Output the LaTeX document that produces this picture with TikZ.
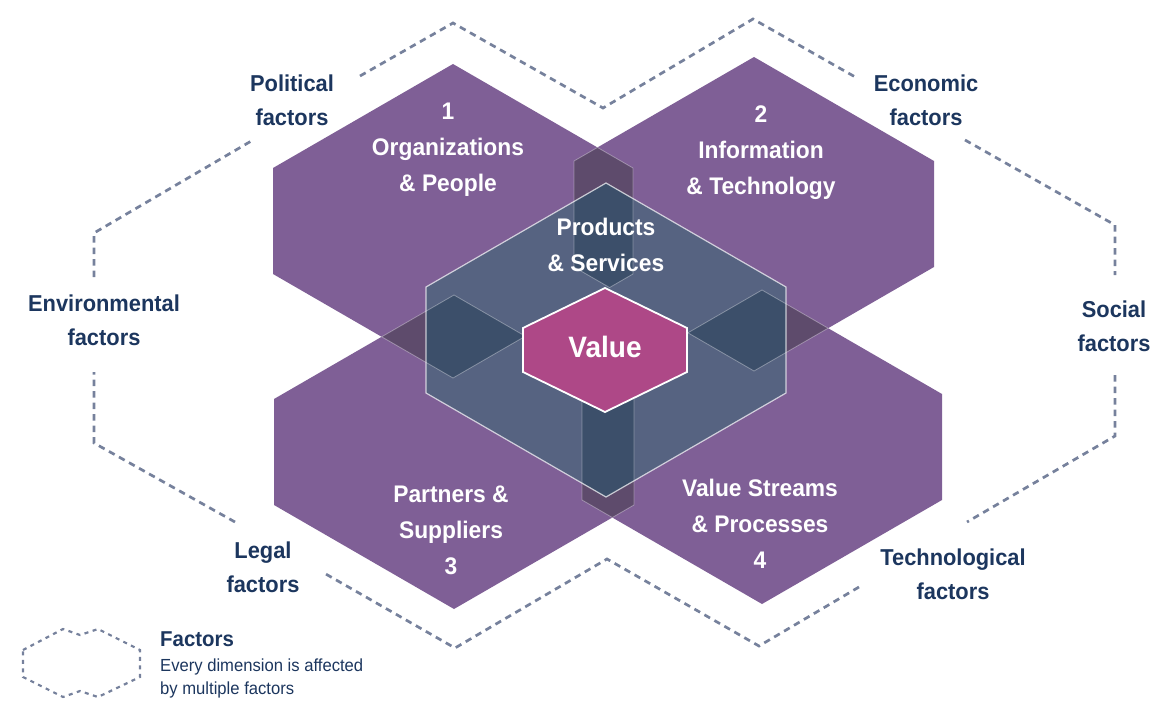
\documentclass[tikz,border=0pt]{standalone}
\usepackage{fontspec}
\setmainfont{Liberation Sans}[FakeStretch=0.95]
\usetikzlibrary{calc}

\definecolor{dimpurple}{RGB}{127,95,150}
\definecolor{overlappurple}{RGB}{94,75,108}
\definecolor{productsblue}{RGB}{86,99,129}
\definecolor{productsdark}{RGB}{60,79,106}
\definecolor{valuepink}{RGB}{174,72,135}
\definecolor{factornavy}{RGB}{28,54,94}
\definecolor{factorgrey}{RGB}{118,129,156}

% squashed hexagon round a named centre: half width, shoulder, tip
\newcommand{\hexat}[4]{($(#1)+(0,-#4)$) -- ($(#1)+(#2,-#3)$) -- ($(#1)+(#2,#3)$) -- ($(#1)+(0,#4)$) -- ($(#1)+(-#2,#3)$) -- ($(#1)+(-#2,-#3)$) -- cycle}
\newcommand{\dimhex}[1]{\hexat{#1}{180}{53}{157}}

\tikzset{
    dimlabel/.style={text=white, align=center, font=\fontsize{24}{36}\selectfont\bfseries},
    factorlabel/.style={text=factornavy, align=center, font=\fontsize{23}{34}\selectfont\bfseries},
    factorline/.style={draw=factorgrey, line width=2.7pt, dash pattern=on 6.5pt off 5pt},
    overlapedge/.style={draw=white, draw opacity=0.35, line width=0.8pt}
}

\begin{document}
\begin{tikzpicture}[x=1pt, y=-1pt]
    \useasboundingbox (0,0) rectangle (1172,706);

    \coordinate (h1) at (453,221);
    \coordinate (h2) at (754,214);
    \coordinate (h3) at (454,452);
    \coordinate (h4) at (762,447);
    \coordinate (ps) at (606,340);
    \coordinate (val) at (605,350);

    % factors outline
    \coordinate (o1) at (94,233);
    \coordinate (o2) at (453,23);
    \coordinate (o3) at (603,108);
    \coordinate (o4) at (753,19);
    \coordinate (o5) at (1115,225);
    \coordinate (o6) at (1115,436);
    \coordinate (o7) at (759,646);
    \coordinate (o8) at (607,559);
    \coordinate (o9) at (455,648);
    \coordinate (o10) at (94,443);

    \draw[factorline] (360,76) -- (o2) -- (o3) -- (o4) -- (857,78);
    \draw[factorline] (965,140) -- (o5) -- (1115,275);
    \draw[factorline] (1115,375) -- (o6) -- (967,522);
    \draw[factorline] (859,587) -- (o7) -- (o8) -- (o9) -- (324,573);
    \draw[factorline] (235,522) -- (o10) -- (94,372);
    \draw[factorline] (94,277) -- (o1) -- (253,140);

    % the four dimensions
    \foreach \h in {h1,h2,h3,h4}
        \fill[dimpurple] \dimhex{\h};
    \foreach \a/\b in {h1/h2,h1/h3,h2/h4,h3/h4}{
        \begin{scope}
            \clip \dimhex{\a};
            \fill[overlappurple] \dimhex{\b};
        \end{scope}
    }

    % products and services
    \fill[productsblue] \dimhex{ps};
    \begin{scope}
        \clip \dimhex{ps};
        \foreach \a/\b in {h1/h2,h1/h3,h2/h4,h3/h4}{
            \begin{scope}
                \clip \dimhex{\a};
                \fill[productsdark] \dimhex{\b};
            \end{scope}
        }
    \end{scope}
    \foreach \a/\b in {h1/h2,h1/h3,h2/h4,h3/h4}{
        \begin{scope}
            \clip \dimhex{\a};
            \draw[overlapedge] \dimhex{\b};
        \end{scope}
        \begin{scope}
            \clip \dimhex{\b};
            \draw[overlapedge] \dimhex{\a};
        \end{scope}
    }
    \draw[white, draw opacity=0.7, line width=1.2pt] \dimhex{ps};

    \filldraw[fill=valuepink, draw=white, line width=1.8pt] \hexat{val}{82}{22}{62};

    \node[dimlabel] (org) at (448,150) {1\\Organizations\\\& People};
    \node[dimlabel] (info) at (761,153) {2\\Information\\\& Technology};
    \node[dimlabel] (partners) at (451,530) {Partners \&\\Suppliers\\3};
    \node[dimlabel] (streams) at (760,524) {Value Streams\\\& Processes\\4};
    \node[dimlabel] (products) at (606,245) {Products\\\& Services};
    \node[dimlabel, font=\fontsize{29.5}{34}\selectfont\bfseries] (value) at (605,347) {Value};

    \node[factorlabel] (political) at (292,100) {Political\\factors};
    \node[factorlabel] (economic) at (926,100) {Economic\\factors};
    \node[factorlabel] (environmental) at (104,320) {Environmental\\factors};
    \node[factorlabel] (social) at (1114,326) {Social\\factors};
    \node[factorlabel] (legal) at (263,567) {Legal\\factors};
    \node[factorlabel] (technological) at (953,574) {Technological\\factors};

    % legend
    \draw[factorline, line width=2.2pt, dash pattern=on 4pt off 4.5pt]
        (23,650) -- (63,629) -- (80,635) -- (98,629) -- (140,650) -- (140,677)
        -- (98,697) -- (80,691) -- (63,697) -- (23,677) -- cycle;
    \node[text=factornavy, anchor=west, inner sep=0, font=\fontsize{21.5}{26}\selectfont\bfseries] (legtitle) at (160,639) {Factors};
    \node[text=factornavy, anchor=north west, inner sep=0, align=left, font=\fontsize{17.5}{23}\selectfont] (legtext) at (160,659) {Every dimension is affected\\by multiple factors};
\end{tikzpicture}
\end{document}
